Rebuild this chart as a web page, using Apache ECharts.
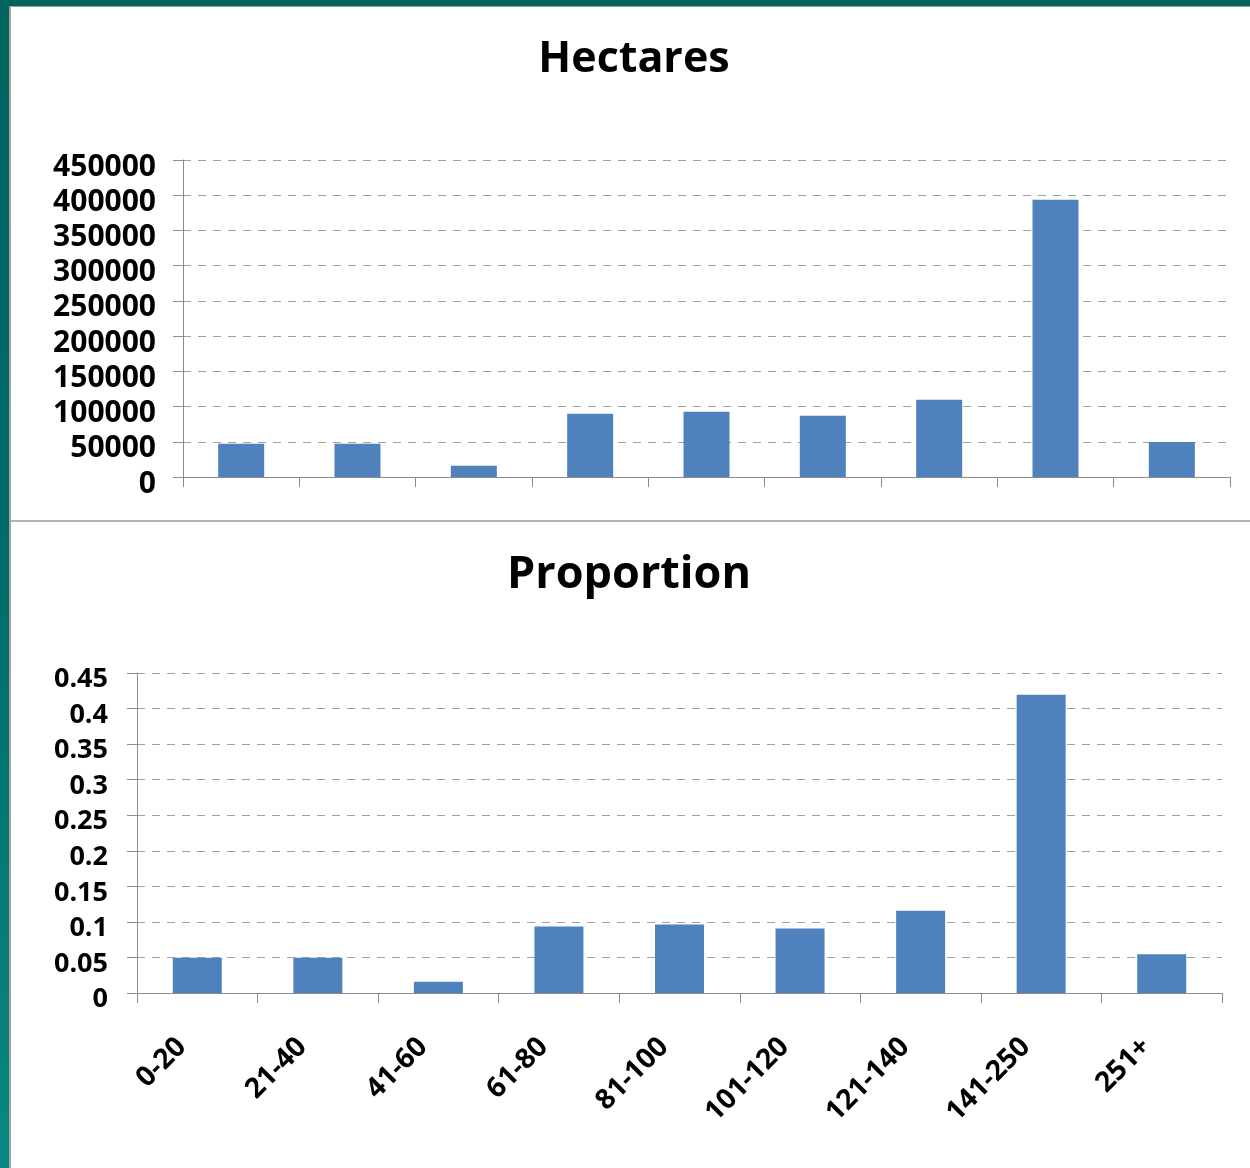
<!DOCTYPE html>
<html>
<head>
<meta charset="utf-8">
<script src="https://cdn.jsdelivr.net/npm/echarts@6/dist/echarts.min.js"></script>
<style>
  html, body { margin: 0; padding: 0; background: #ffffff; }
  #frame { position: absolute; left: 0; top: 0; width: 1250px; height: 1168px; overflow: hidden; }
  #edgeLeft { position: absolute; left: 0; top: 0; width: 9px; height: 1168px;
    background: linear-gradient(to bottom, #00635e 0%, #006d69 50%, #0a8784 100%); }
  #edgeTop { position: absolute; left: 0; top: 0; width: 1250px; height: 6px; background: #00635e; }
  #innerLeft { position: absolute; left: 9px; top: 6px; width: 2px; height: 1162px; background: #a3a3a3; }
  #innerTop { position: absolute; left: 9px; top: 6px; width: 1241px; height: 1px; background: #a3a3a3; }
  #chart { position: absolute; left: 0; top: 0; width: 1250px; height: 1168px; }
</style>
</head>
<body>
<div id="frame">
  <div id="chart"></div>
  <div id="edgeLeft"></div>
  <div id="edgeTop"></div>
  <div id="innerLeft"></div>
  <div id="innerTop"></div>
</div>
<script>
// Farm size classes (hectares)
const categories = ['0-20', '21-40', '41-60', '61-80', '81-100', '101-120', '121-140', '141-250', '251+'];
// Total hectares per size class
const hectares = [47300, 47300, 16000, 89900, 92700, 87000, 109700, 393600, 49800];
// Share of total area per size class
const proportion = [0.0495, 0.0495, 0.0157, 0.0935, 0.0963, 0.0907, 0.1157, 0.4195, 0.0546];

const FONT = '"Open Sans", Lato, sans-serif';
const BAR = '#4f81bd';
const AXIS = '#8c8c8c';
const GRID = '#a0a0a0';

// Value axis with dashed gridlines; labels sit a few pixels below their tick
function valueAxis(gridIndex, max, interval, fontSize, margin, lineH) {
  return {
    type: 'value', gridIndex: gridIndex, min: 0, max: max, interval: interval,
    axisLine: { show: true, lineStyle: { color: AXIS, width: 1 } },
    axisTick: { show: true, length: 10, lineStyle: { color: AXIS } },
    splitLine: { show: true, lineStyle: { color: GRID, width: 1, type: [8, 7] } },
    axisLabel: { color: '#000', fontFamily: FONT, fontWeight: 'bold', fontSize: fontSize,
      margin: margin, verticalAlign: 'top', lineHeight: lineH,
      formatter: function (v) { return String(v); } }
  };
}

const chart = echarts.init(document.getElementById('chart'), null, { renderer: 'canvas' });
chart.setOption({
  animation: false,
  backgroundColor: '#ffffff',
  title: [
    { text: 'Hectares', left: 629, top: 55, textAlign: 'center', textVerticalAlign: 'middle',
      textStyle: { fontFamily: FONT, fontWeight: 'bold', fontSize: 43, color: '#000' } },
    { text: 'Proportion', left: 624, top: 570, textAlign: 'center', textVerticalAlign: 'middle',
      textStyle: { fontFamily: FONT, fontWeight: 'bold', fontSize: 45, color: '#000' } }
  ],
  graphic: [
    { type: 'line', shape: { x1: 10, y1: 521, x2: 1250, y2: 521 },
      style: { stroke: '#9a9a9a', lineWidth: 1.5 }, z: 10 }
  ],
  grid: [
    { left: 183, top: 160, width: 1047, height: 317 },
    { left: 137, top: 673, width: 1085, height: 320 }
  ],
  xAxis: [
    { type: 'category', gridIndex: 0, data: categories,
      axisLine: { lineStyle: { color: AXIS } },
      axisTick: { show: true, length: 10, lineStyle: { color: AXIS } },
      axisLabel: { show: false } },
    { type: 'category', gridIndex: 1, data: categories,
      axisLine: { lineStyle: { color: AXIS } },
      axisTick: { show: true, length: 10, lineStyle: { color: AXIS } },
      axisLabel: { show: true, interval: 0, rotate: 45, margin: 34, color: '#000',
        fontFamily: FONT, fontWeight: 'bold', fontSize: 28, padding: [0, 22, 0, 0] } }
  ],
  yAxis: [
    valueAxis(0, 450000, 50000, 30, 27, 14),
    valueAxis(1, 0.45, 0.05, 27, 29, 13)
  ],
  series: [
    { name: 'Hectares', type: 'bar', xAxisIndex: 0, yAxisIndex: 0, data: hectares,
      barWidth: 46, itemStyle: { color: BAR } },
    { name: 'Proportion', type: 'bar', xAxisIndex: 1, yAxisIndex: 1, data: proportion,
      barWidth: 49, itemStyle: { color: BAR } }
  ]
});
</script>
</body>
</html>
